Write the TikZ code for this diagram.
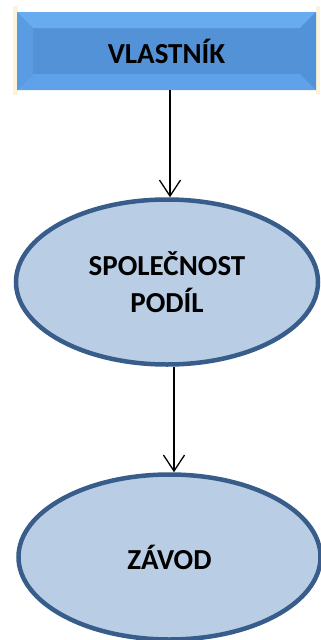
\documentclass[tikz,border=0pt]{standalone}
\usepackage{fontspec}
\setmainfont{Carlito}
\usetikzlibrary{shapes.geometric,arrows.meta,calc}

\definecolor{boxmid}{RGB}{84,146,216}
\definecolor{boxtop}{RGB}{104,172,240}
\definecolor{boxbot}{RGB}{96,162,234}
\definecolor{boxleft}{RGB}{90,156,226}
\definecolor{boxright}{RGB}{82,146,216}
\definecolor{glow}{RGB}{252,244,218}
\definecolor{ovalfill}{RGB}{185,205,229}
\definecolor{ovalline}{RGB}{56,93,138}

\tikzset{
  label text/.style={font=\fontsize{29}{37}\selectfont\bfseries, align=center, text=black},
  bevelbox/.style={rectangle, minimum width=299pt, minimum height=78pt,
    fill=boxmid, label text, inner sep=0pt,
    path picture={
      \coordinate (nw) at (path picture bounding box.north west);
      \coordinate (ne) at (path picture bounding box.north east);
      \coordinate (sw) at (path picture bounding box.south west);
      \coordinate (se) at (path picture bounding box.south east);
      \fill[boxtop]   (nw) -- (ne) -- ($(ne)+(-16,16)$) -- ($(nw)+(16,16)$) -- cycle;
      \fill[boxbot]   (sw) -- (se) -- ($(se)+(-16,-16)$) -- ($(sw)+(16,-16)$) -- cycle;
      \fill[boxleft]  (nw) -- ($(nw)+(16,16)$) -- ($(sw)+(16,-16)$) -- (sw) -- cycle;
      \fill[boxright] (ne) -- ($(ne)+(-16,16)$) -- ($(se)+(-16,-16)$) -- (se) -- cycle;
    }},
  oval/.style={ellipse, draw=ovalline, line width=4.5pt, fill=ovalfill,
    minimum width=302pt, minimum height=165pt, label text},
  arr/.style={line width=1.3pt, -{Straight Barb[length=16pt,width=21pt,line width=1.3pt]}}
}

\begin{document}
\begin{tikzpicture}[x=1pt,y=-1pt]
  \useasboundingbox (0,0) rectangle (321,640);

  % soft glow strips on both ends of the top box
  \fill[glow] (13,6) rectangle (17.5,95);
  \fill[glow] (315.5,6) rectangle (320,95);

  \node[bevelbox] (owner) at (166.5,51) {VLASTNÍK};
  \node[oval] (company) at (167,282) {SPOLEČNOST\\PODÍL};
  \node[oval] (plant) at (169.5,557) {ZÁVOD};

  \draw[arr] ($(owner.south)+(3.5,0)$) coordinate (a1) -- (a1 |- company.north);
  \draw[arr] ($(company.south)+(7,0)$) coordinate (a2) -- (a2 |- plant.north);
\end{tikzpicture}
\end{document}
